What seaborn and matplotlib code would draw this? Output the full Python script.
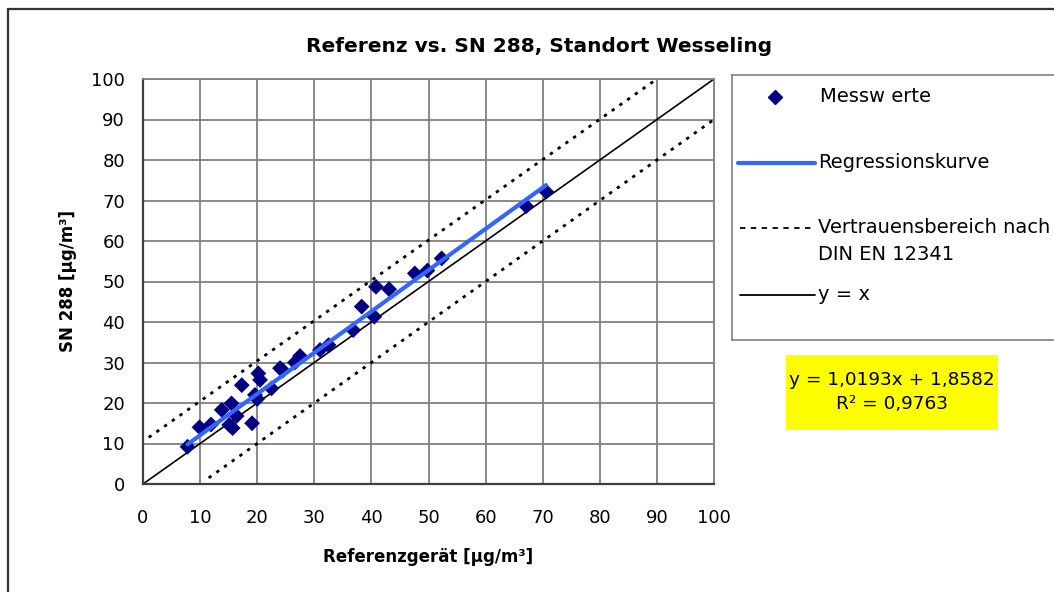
import matplotlib
matplotlib.use("Agg")
import matplotlib.pyplot as plt
import seaborn as sns
import pandas as pd
from matplotlib.patches import Rectangle
from matplotlib.lines import Line2D

ref_vals = [7.8, 9.9, 11.9, 13.8, 15.1, 15.7, 15.5, 16.4, 17.3, 19.1, 19.6, 20.0, 20.2, 20.5,
            22.5, 24.0, 24.5, 26.6, 27.5, 31.0, 32.5, 36.8, 38.3, 40.5, 40.8, 43.1, 47.6,
            49.8, 52.3, 67.1, 70.6]
sn_vals = [9.2, 14.0, 14.7, 18.3, 14.6, 13.8, 19.9, 16.8, 24.4, 15.0, 22.0, 21.0, 27.3, 25.7,
           23.6, 28.6, 28.0, 30.0, 31.6, 33.1, 34.3, 38.0, 43.8, 41.3, 48.7, 48.1, 52.0,
           52.7, 55.7, 68.6, 72.2]

# lines
reg_x = [7.8, 70.6]
reg_y = [9.8, 73.8]
upper_x = [1.0, 90.0]
upper_y = [11.5, 100.0]
lower_x = [11.5, 100.0]
lower_y = [1.5, 90.0]
ident_x = [0, 100]
ident_y = [0, 100]

ticks = list(range(0, 101, 10))
eq_text = "y = 1,0193x + 1,8582\nR² = 0,9763"

sns.set_style("white")
plt.rcParams['font.family'] = ['DejaVu Sans']
plt.rcParams['text.color'] = 'black'
plt.rcParams['axes.labelcolor'] = 'black'
plt.rcParams['xtick.color'] = 'black'
plt.rcParams['ytick.color'] = 'black'

W, H = 1054, 592
fig = plt.figure(figsize=(W / 100, H / 100), dpi=100)

def fx(px):
    return px / W

def fy(py):
    return 1 - py / H

ax = fig.add_axes([fx(143), fy(484), fx(714) - fx(143), fy(79) - fy(484)])

df = pd.DataFrame({"ref": ref_vals, "sn": sn_vals})

# reference lines
sns.lineplot(x=upper_x, y=upper_y, color="black", linewidth=2, linestyle=(0, (1.2, 2.2)), ax=ax)
sns.lineplot(x=lower_x, y=lower_y, color="black", linewidth=2, linestyle=(0, (1.2, 2.2)), ax=ax)
sns.lineplot(x=ident_x, y=ident_y, color="black", linewidth=1.2, ax=ax)
sns.scatterplot(data=df, x="ref", y="sn", marker="D", s=65, color="#000080",
                edgecolor="none", ax=ax, zorder=3)
sns.lineplot(x=reg_x, y=reg_y, color="#3366FF", linewidth=3, ax=ax, zorder=4)

ax.set_xlim(0, 100)
ax.set_ylim(0, 100)
ax.set_xticks(ticks)
ax.set_yticks(ticks)
ax.grid(True, color="#808080", linewidth=1.3)
ax.set_axisbelow(True)
for side in ["left", "bottom"]:
    ax.spines[side].set_color("#404040")
    ax.spines[side].set_linewidth(1.6)
for side in ["top", "right"]:
    ax.spines[side].set_color("#808080")
    ax.spines[side].set_linewidth(1.3)
ax.tick_params(axis="both", direction="out", length=5, width=1.3, color="#404040",
               labelsize=13)
ax.tick_params(axis="x", pad=13)
ax.tick_params(axis="y", pad=8)
ax.set_xlabel("Referenzgerät [µg/m³]", fontsize=12, fontweight="bold", labelpad=15)
ax.set_ylabel("SN 288 [µg/m³]", fontsize=12, fontweight="bold", labelpad=10)

fig.text(fx(539), fy(46), "Referenz vs. SN 288, Standort Wesseling", ha="center",
         va="center", fontsize=14.5, fontweight="bold")

# outer frame
fig.patches.append(Rectangle((fx(8), fy(700)), 1.2, fy(9) - fy(700), transform=fig.transFigure,
                             fill=False, edgecolor="#333333", linewidth=1.6))

# legend box
lg = fig.add_axes([fx(732), fy(340), 330 / W, 265 / H])
lg.set_xlim(0, 1)
lg.set_ylim(0, 1)
lg.set_xticks([])
lg.set_yticks([])
for s in lg.spines.values():
    s.set_color("#808080")
    s.set_linewidth(1.2)
lg.add_line(Line2D([0.13], [0.917], marker="D", markersize=7.5, color="#000080", linestyle="none"))
lg.text(0.267, 0.917, "Messw erte", va="center", fontsize=14)
lg.add_line(Line2D([0.018, 0.252], [0.668, 0.668], color="#3366FF", linewidth=3))
lg.text(0.26, 0.668, "Regressionskurve", va="center", fontsize=14)
lg.add_line(Line2D([0.024, 0.252], [0.423, 0.423], color="black", linewidth=1.3,
                   linestyle=(0, (3, 3))))
lg.text(0.26, 0.423, "Vertrauensbereich nach", va="center", fontsize=14)
lg.text(0.26, 0.321, "DIN EN 12341", va="center", fontsize=14)
lg.add_line(Line2D([0.024, 0.252], [0.17, 0.17], color="black", linewidth=1.3))
lg.text(0.26, 0.17, "y = x", va="center", fontsize=14)

# equation box
fig.patches.append(Rectangle((fx(786), fy(430)), fx(998) - fx(786), fy(355) - fy(430),
                             transform=fig.transFigure, facecolor="#FFFF00", edgecolor="none"))
fig.text(fx(892), fy(392), eq_text, ha="center", va="center", fontsize=13.3, linespacing=1.4)

fig.savefig("out.png", dpi=100)
